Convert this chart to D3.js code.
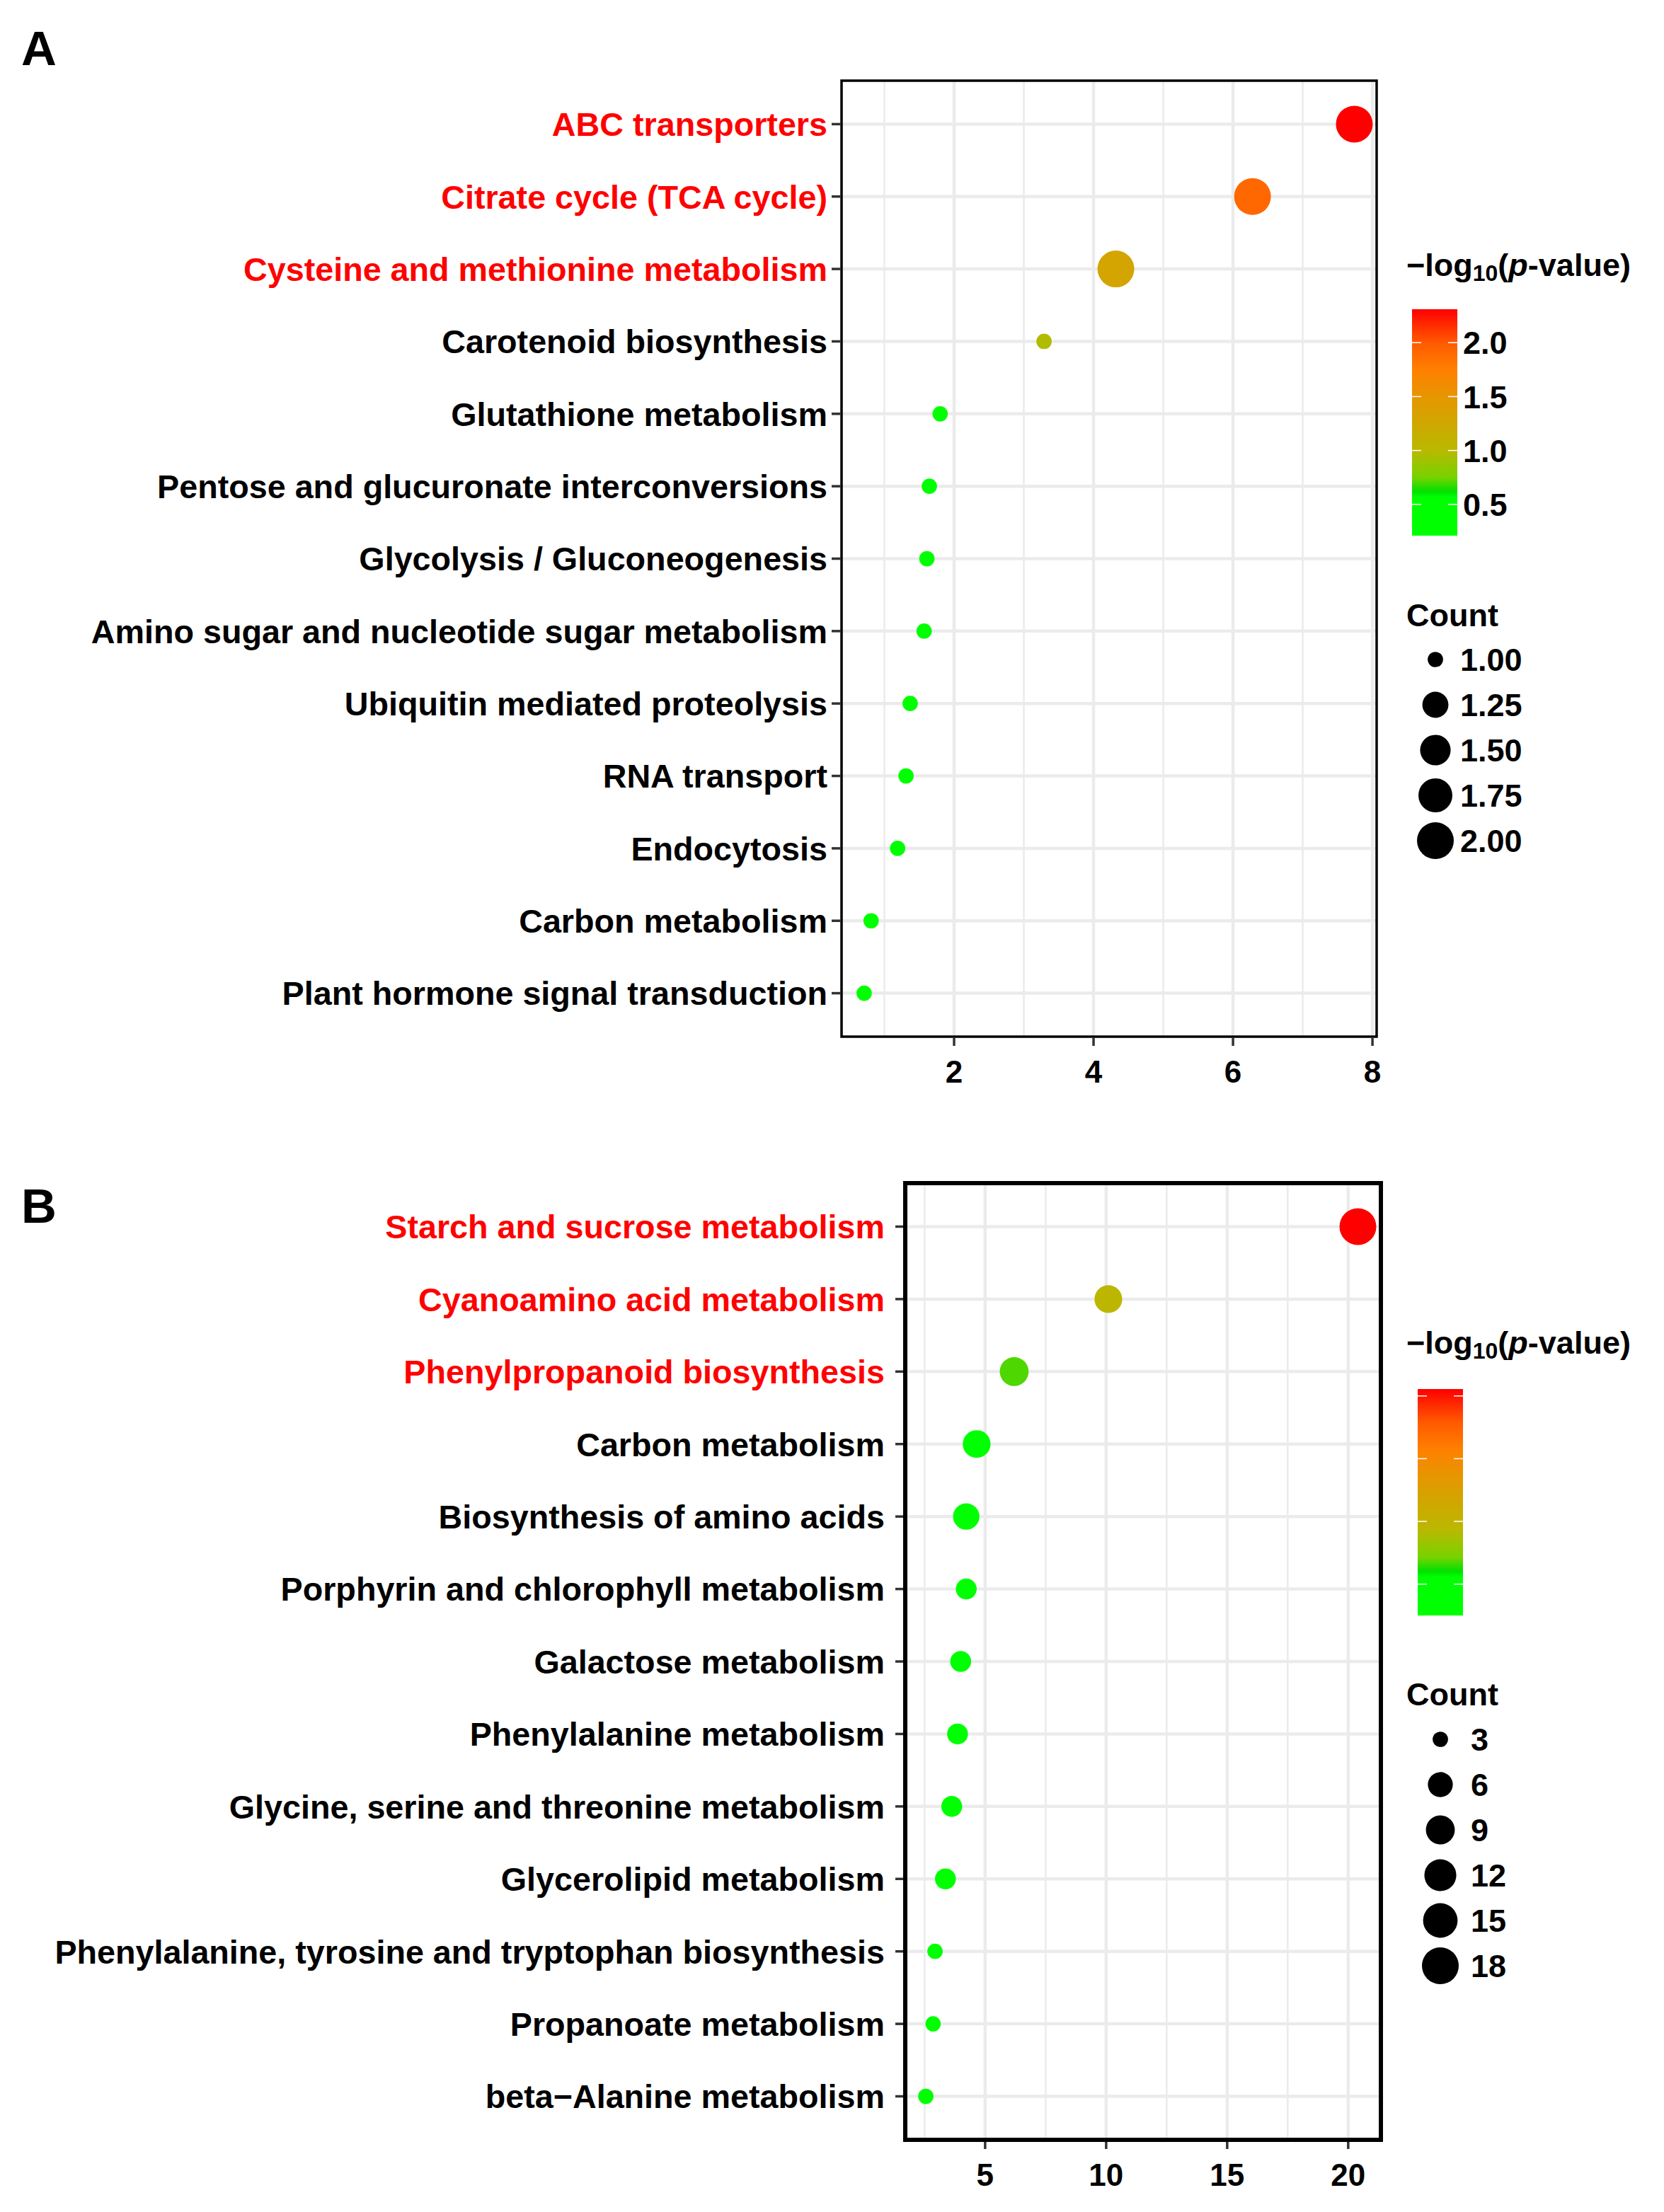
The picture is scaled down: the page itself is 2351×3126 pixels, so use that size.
<!DOCTYPE html>
<html>
<head>
<meta charset="utf-8">
<script src="https://cdn.jsdelivr.net/npm/d3@7"></script>
<style>
  body { margin: 0; background: #fff; }
  text { font-family: "Liberation Sans", Arial, sans-serif; font-weight: bold; }
</style>
</head>
<body>
<svg id="chart" width="2351" height="3126"></svg>
<script>
// ---------- Panel A data ----------
var pathwaysA = ['ABC transporters', 'Citrate cycle (TCA cycle)', 'Cysteine and methionine metabolism',
  'Carotenoid biosynthesis', 'Glutathione metabolism', 'Pentose and glucuronate interconversions',
  'Glycolysis / Gluconeogenesis', 'Amino sugar and nucleotide sugar metabolism',
  'Ubiquitin mediated proteolysis', 'RNA transport', 'Endocytosis', 'Carbon metabolism',
  'Plant hormone signal transduction'];
var xA = [7.74, 6.28, 4.32, 3.29, 1.80, 1.645, 1.61, 1.57, 1.37, 1.31, 1.19, 0.81, 0.71];
var countA = [2, 2, 2, 1, 1, 1, 1, 1, 1, 1, 1, 1, 1];
var logpA = [2.31, 1.91, 1.30, 0.97, 0.45, 0.40, 0.38, 0.36, 0.30, 0.28, 0.25, 0.22, 0.21];
var highlightA = 3; // first n labels drawn in red
var xTicksA = [2, 4, 6, 8];
var colorTicksA = [0.5, 1.0, 1.5, 2.0];
var colorLabelsA = ['0.5', '1.0', '1.5', '2.0'];
var sizeBreaksA = [1.00, 1.25, 1.50, 1.75, 2.00];
var sizeLabelsA = ['1.00', '1.25', '1.50', '1.75', '2.00'];

// ---------- Panel B data ----------
var pathwaysB = ['Starch and sucrose metabolism', 'Cyanoamino acid metabolism', 'Phenylpropanoid biosynthesis',
  'Carbon metabolism', 'Biosynthesis of amino acids', 'Porphyrin and chlorophyll metabolism',
  'Galactose metabolism', 'Phenylalanine metabolism', 'Glycine, serine and threonine metabolism',
  'Glycerolipid metabolism', 'Phenylalanine, tyrosine and tryptophan biosynthesis',
  'Propanoate metabolism', 'beta\u2212Alanine metabolism'];
var xB = [20.4, 10.09, 6.2, 4.65, 4.22, 4.22, 3.99, 3.86, 3.62, 3.36, 2.93, 2.85, 2.55];
var countB = [18, 8, 9, 8, 7, 4, 4, 4, 4, 4, 3, 3, 3];
var logpB = [4.11, 1.94, 1.35, 0.85, 0.82, 0.78, 0.75, 0.72, 0.70, 0.66, 0.60, 0.55, 0.50];
var highlightB = 3;
var xTicksB = [5, 10, 15, 20];
var colorTicksB = [1, 2, 3, 4];
var colorLabelsB = ['', '', '', ''];   // labels are blank in the original
var sizeBreaksB = [3, 6, 9, 12, 15, 18];
var sizeLabelsB = ['3', '6', '9', '12', '15', '18'];

// colour ramp (position along the bar, 0 = low, 1 = high)
var rampPos = [0, 0.17, 0.195, 0.257, 0.376, 0.614, 0.733, 0.852, 1];
var rampCol = ['#00ff00', '#00ff00', '#00e000', '#78d200', '#b9b900', '#e69600', '#ff8000', '#ff5a00', '#ff0000'];

var svg = d3.select('#chart');

function drawPanel(cfg) {
  var x = d3.scaleLinear().domain(cfg.xDomain).range([cfg.left, cfg.right]);
  var y = d3.scalePoint().domain(cfg.names).range([cfg.top, cfg.bottom]).padding(0.6);
  var lo = cfg.colorDomain[0], hi = cfg.colorDomain[1];
  var col = d3.scaleLinear()
    .domain(rampPos.map(function(p) { return lo + p * (hi - lo); }))
    .range(rampCol).clamp(true);
  var t = d3.scaleLinear().domain(cfg.sizeDomain).range([0, 1]).clamp(true);
  var diam = d3.scaleLinear().domain([0, 1]).range([21.7, 52]);
  function radius(v) { return diam(Math.sqrt(t(v))) / 2; }

  var g = svg.append('g');

  // panel letter
  g.append('text').attr('x', cfg.letterX).attr('y', cfg.letterY)
    .attr('font-size', 69).attr('fill', '#000').text(cfg.letter);

  // minor grid
  var minor = d3.range(cfg.minorStart, cfg.xDomain[1], cfg.minorStep);
  g.selectAll('.minor').data(minor).enter().append('line')
    .attr('x1', function(d) { return x(d); }).attr('x2', function(d) { return x(d); })
    .attr('y1', cfg.top).attr('y2', cfg.bottom)
    .attr('stroke', '#ebebeb').attr('stroke-width', 2.5);
  // major grid
  g.selectAll('.vmajor').data(cfg.xTicks).enter().append('line')
    .attr('x1', function(d) { return x(d); }).attr('x2', function(d) { return x(d); })
    .attr('y1', cfg.top).attr('y2', cfg.bottom)
    .attr('stroke', '#ebebeb').attr('stroke-width', 4.5);
  g.selectAll('.hmajor').data(cfg.names).enter().append('line')
    .attr('x1', cfg.left).attr('x2', cfg.right)
    .attr('y1', function(d) { return y(d); }).attr('y2', function(d) { return y(d); })
    .attr('stroke', '#ebebeb').attr('stroke-width', 4.5);

  // points
  var rows = cfg.names.map(function(n, i) {
    return { name: n, x: cfg.xs[i], count: cfg.counts[i], logp: cfg.logp[i] };
  });
  g.selectAll('circle.pt').data(rows).enter().append('circle')
    .attr('cx', function(d) { return x(d.x); })
    .attr('cy', function(d) { return y(d.name); })
    .attr('r', function(d) { return radius(d.count); })
    .attr('fill', function(d) { return col(d.logp); });

  // border
  g.append('rect').attr('x', cfg.left).attr('y', cfg.top)
    .attr('width', cfg.right - cfg.left).attr('height', cfg.bottom - cfg.top)
    .attr('fill', 'none').attr('stroke', '#000').attr('stroke-width', cfg.border);

  // y axis ticks + labels
  g.selectAll('.ytick').data(cfg.names).enter().append('line')
    .attr('x1', cfg.left - cfg.tickLen).attr('x2', cfg.left - cfg.border / 2)
    .attr('y1', function(d) { return y(d); }).attr('y2', function(d) { return y(d); })
    .attr('stroke', '#333').attr('stroke-width', 3.5);
  g.selectAll('.ylab').data(cfg.names).enter().append('text')
    .attr('x', cfg.labelRight).attr('y', function(d) { return y(d); })
    .attr('dy', '0.36em').attr('text-anchor', 'end').attr('font-size', 46.7)
    .attr('fill', function(d, i) { return i < cfg.highlight ? '#ff0000' : '#000'; })
    .text(function(d) { return d; });

  // x axis ticks + labels
  g.selectAll('.xtick').data(cfg.xTicks).enter().append('line')
    .attr('x1', function(d) { return x(d); }).attr('x2', function(d) { return x(d); })
    .attr('y1', cfg.bottom + cfg.border / 2).attr('y2', cfg.bottom + 13)
    .attr('stroke', '#333').attr('stroke-width', 3.5);
  g.selectAll('.xlab').data(cfg.xTicks).enter().append('text')
    .attr('x', function(d) { return x(d); }).attr('y', cfg.bottom + 65)
    .attr('text-anchor', 'middle').attr('font-size', 44).attr('fill', '#000')
    .text(function(d) { return d; });

  // ----- colour legend -----
  var lg = svg.append('g');
  var title = lg.append('text').attr('x', cfg.legX).attr('y', cfg.legTitleY)
    .attr('font-size', 45).attr('fill', '#000');
  title.append('tspan').text('\u2212log');
  title.append('tspan').attr('font-size', 32).attr('dy', 7).text('10');
  title.append('tspan').attr('dy', -7).text('(');
  title.append('tspan').attr('font-style', 'italic').text('p');
  title.append('tspan').text('-value)');

  var cb = d3.scaleLinear().domain(cfg.colorDomain).range([cfg.barBottom, cfg.barTop]);
  var gradId = 'grad' + cfg.letter;
  var grad = svg.append('defs').append('linearGradient').attr('id', gradId)
    .attr('x1', 0).attr('y1', 1).attr('x2', 0).attr('y2', 0);
  grad.selectAll('stop').data(d3.range(0, 1.0001, 0.01)).enter().append('stop')
    .attr('offset', function(d) { return d; })
    .attr('stop-color', function(d) { return col(lo + d * (hi - lo)); });
  lg.append('rect').attr('x', cfg.barX).attr('y', cfg.barTop)
    .attr('width', 64).attr('height', cfg.barBottom - cfg.barTop)
    .attr('fill', 'url(#' + gradId + ')');
  cfg.colorTicks.forEach(function(v, i) {
    var yy = cb(v);
    lg.append('line').attr('x1', cfg.barX).attr('x2', cfg.barX + 13).attr('y1', yy).attr('y2', yy)
      .attr('stroke', '#fff').attr('stroke-width', 1.5);
    lg.append('line').attr('x1', cfg.barX + 51).attr('x2', cfg.barX + 64).attr('y1', yy).attr('y2', yy)
      .attr('stroke', '#fff').attr('stroke-width', 1.5);
    lg.append('text').attr('x', cfg.barX + 72).attr('y', yy).attr('dy', '0.36em')
      .attr('font-size', 45).attr('fill', '#000').text(cfg.colorLabels[i]);
  });

  // ----- size legend -----
  lg.append('text').attr('x', cfg.legX).attr('y', cfg.countTitleY)
    .attr('font-size', 45).attr('fill', '#000').text('Count');
  lg.selectAll('.sz').data(cfg.sizeBreaks).enter().append('circle')
    .attr('cx', cfg.sizeCx).attr('cy', function(d, i) { return cfg.sizeY0 + i * 64; })
    .attr('r', function(d) { return radius(d); }).attr('fill', '#000');
  lg.selectAll('.szl').data(cfg.sizeLabels).enter().append('text')
    .attr('x', cfg.sizeLabelX).attr('y', function(d, i) { return cfg.sizeY0 + i * 64; })
    .attr('dy', '0.36em').attr('font-size', 45).attr('fill', '#000')
    .text(function(d) { return d; });
}

drawPanel({
  letter: 'A', letterX: 30, letterY: 92,
  names: pathwaysA, xs: xA, counts: countA, logp: logpA, highlight: highlightA,
  left: 1189, right: 1945, top: 114, bottom: 1465, border: 3.5, tickLen: 14, labelRight: 1169,
  xDomain: [0.386, 8.06], xTicks: xTicksA, minorStart: 1, minorStep: 2,
  colorDomain: [0.21, 2.31], colorTicks: colorTicksA, colorLabels: colorLabelsA,
  sizeDomain: [1, 2], sizeBreaks: sizeBreaksA, sizeLabels: sizeLabelsA,
  legX: 1987, legTitleY: 390, barX: 1995, barTop: 437, barBottom: 757,
  countTitleY: 885, sizeY0: 932, sizeCx: 2028, sizeLabelX: 2063
});

drawPanel({
  letter: 'B', letterX: 30, letterY: 1728,
  names: pathwaysB, xs: xB, counts: countB, logp: logpB, highlight: highlightB,
  left: 1279, right: 1951, top: 1672, bottom: 3024, border: 6, tickLen: 14, labelRight: 1250,
  xDomain: [1.70, 21.35], xTicks: xTicksB, minorStart: 2.5, minorStep: 5,
  colorDomain: [0.5, 4.11], colorTicks: colorTicksB, colorLabels: colorLabelsB,
  sizeDomain: [3, 18], sizeBreaks: sizeBreaksB, sizeLabels: sizeLabelsB,
  legX: 1987, legTitleY: 1913, barX: 2003, barTop: 1963, barBottom: 2283,
  countTitleY: 2410, sizeY0: 2458, sizeCx: 2035, sizeLabelX: 2078
});
</script>
</body>
</html>
